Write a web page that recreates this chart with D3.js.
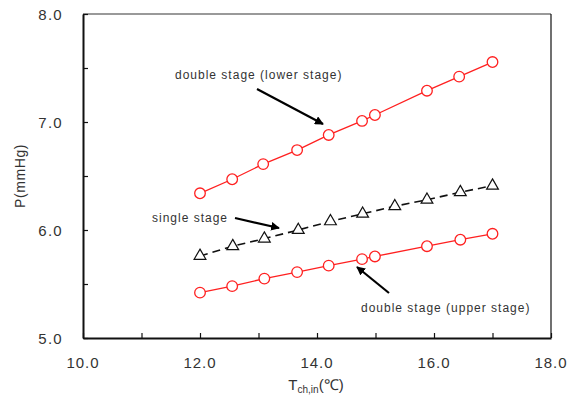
<!DOCTYPE html>
<html>
<head>
<meta charset="utf-8">
<script src="https://cdn.jsdelivr.net/npm/d3@7/dist/d3.min.js"></script>
<style>
  html, body { margin: 0; padding: 0; background: #fff; }
  svg { display: block; }
  text { font-family: "Liberation Sans", Arial, sans-serif; fill: #333; }
</style>
</head>
<body>
<svg id="chart" width="574" height="399"></svg>
<script>
// Channel inlet temperature (°C) and pressure (mmHg) for each configuration
const lowerStageT = [12.0, 12.55, 13.08, 13.66, 14.2, 14.77, 14.99, 15.88, 16.43, 17.0];
const lowerStageP = [6.34, 6.47, 6.61, 6.74, 6.88, 7.01, 7.065, 7.29, 7.42, 7.555];

const singleStageT = [12.0, 12.56, 13.1, 13.68, 14.23, 14.78, 15.33, 15.88, 16.45, 17.0];
const singleStageP = [5.76, 5.85, 5.92, 6.0, 6.08, 6.15, 6.22, 6.28, 6.35, 6.41];

const upperStageT = [12.0, 12.55, 13.1, 13.66, 14.2, 14.77, 14.99, 15.88, 16.45, 17.0];
const upperStageP = [5.42, 5.48, 5.55, 5.61, 5.67, 5.73, 5.755, 5.85, 5.91, 5.965];

const xTicks = [10, 12, 14, 16, 18];
const xMinorTicks = [11, 13, 15, 17];
const yTicks = [5, 6, 7, 8];
const yMinorTicks = [5.5, 6.5, 7.5];

const svg = d3.select("#chart");
const plotL = 83, plotR = 551, plotT = 14, plotB = 338;

const x = d3.scaleLinear().domain([10, 18]).range([plotL, plotR]);
const y = d3.scaleLinear().domain([5, 8]).range([plotB, plotT]);

// frame: top/right borders
svg.append("line").attr("x1", plotL).attr("x2", plotR).attr("y1", plotT).attr("y2", plotT)
  .attr("stroke", "#777").attr("stroke-width", 1.5);
svg.append("line").attr("x1", plotR).attr("x2", plotR).attr("y1", plotT).attr("y2", plotB)
  .attr("stroke", "#111").attr("stroke-width", 1.2);

// x axis with inward ticks
const xAxis = svg.append("g").attr("transform", `translate(0,${plotB})`)
  .call(d3.axisBottom(x).tickValues(xTicks.concat(xMinorTicks)).tickSize(-5).tickSizeOuter(0).tickFormat(""));
xAxis.select(".domain").attr("stroke", "#111").attr("stroke-width", 2);
xAxis.selectAll(".tick line").attr("stroke", "#111").attr("stroke-width", 1.2);
svg.append("g").selectAll("text").data(xTicks).join("text")
  .attr("x", d => x(d)).attr("y", plotB + 30)
  .attr("text-anchor", "middle").attr("font-size", 15).style("letter-spacing", "1px")
  .text(d => d3.format(".1f")(d));

// y axis with inward ticks
const yAxis = svg.append("g").attr("transform", `translate(${plotL},0)`)
  .call(d3.axisLeft(y).tickValues(yTicks.concat(yMinorTicks)).tickSize(-5).tickSizeOuter(0).tickFormat(""));
yAxis.select(".domain").attr("stroke", "#111").attr("stroke-width", 2);
yAxis.selectAll(".tick line").attr("stroke", "#111").attr("stroke-width", 1.2);
svg.append("g").selectAll("text").data(yTicks).join("text")
  .attr("x", plotL - 20).attr("y", d => y(d) + 5.5)
  .attr("text-anchor", "end").attr("font-size", 15).style("letter-spacing", "1.3px")
  .text(d => d3.format(".1f")(d));

// axis titles
svg.append("text").attr("transform", `translate(25,${(plotT + plotB) / 2}) rotate(-90)`)
  .attr("text-anchor", "middle").attr("font-size", 14).style("letter-spacing", "0.6px").text("P(mmHg)");
const xt = svg.append("text").attr("x", 316).attr("y", 390).attr("text-anchor", "middle").attr("font-size", 15);
xt.append("tspan").text("T");
xt.append("tspan").attr("font-size", 10).attr("dy", 3).text("ch,in");
xt.append("tspan").attr("dy", -3).text("(℃)");

const line = d3.line().x(d => x(d[0])).y(d => y(d[1]));
const zip = (a, b) => a.map((v, i) => [v, b[i]]);

const lower = zip(lowerStageT, lowerStageP);
const single = zip(singleStageT, singleStageP);
const upper = zip(upperStageT, upperStageP);

// red solid series with open circles
[lower, upper].forEach(s => {
  svg.append("path").datum(s).attr("d", line).attr("fill", "none")
    .attr("stroke", "#ff2020").attr("stroke-width", 1.3);
  svg.append("g").selectAll("circle").data(s).join("circle")
    .attr("cx", d => x(d[0])).attr("cy", d => y(d[1])).attr("r", 5.3)
    .attr("fill", "#fff").attr("stroke", "#ff2020").attr("stroke-width", 1.3);
});

// single stage: black dashed with open triangles
svg.append("path").datum(single).attr("d", line).attr("fill", "none")
  .attr("stroke", "#111").attr("stroke-width", 1.6).attr("stroke-dasharray", "8,5");
const tri = d3.symbol().type(d3.symbolTriangle).size(60);
svg.append("g").selectAll("path").data(single).join("path")
  .attr("d", tri).attr("transform", d => `translate(${x(d[0])},${y(d[1])})`)
  .attr("fill", "#fff").attr("stroke", "#111").attr("stroke-width", 1.2);

// annotations
svg.append("defs").append("marker").attr("id", "arrow")
  .attr("viewBox", "0 0 10 10").attr("refX", 9).attr("refY", 5)
  .attr("markerWidth", 4).attr("markerHeight", 4).attr("orient", "auto")
  .append("path").attr("d", "M0,0 L10,5 L0,10 Z").attr("fill", "#000");

const notes = [
  { text: "double stage (lower stage)", tx: 175, ty: 79, a: [257, 89, 323, 124] },
  { text: "single stage", tx: 152, ty: 222, a: [235, 218, 279, 228] },
  { text: "double stage (upper stage)", tx: 361, ty: 312, a: [389, 293, 357, 267] }
];
notes.forEach(n => {
  svg.append("text").attr("x", n.tx).attr("y", n.ty).attr("font-size", 12)
    .style("letter-spacing", "1px").text(n.text);
  svg.append("line").attr("x1", n.a[0]).attr("y1", n.a[1]).attr("x2", n.a[2]).attr("y2", n.a[3])
    .attr("stroke", "#000").attr("stroke-width", 2.2).attr("marker-end", "url(#arrow)");
});
</script>
</body>
</html>
